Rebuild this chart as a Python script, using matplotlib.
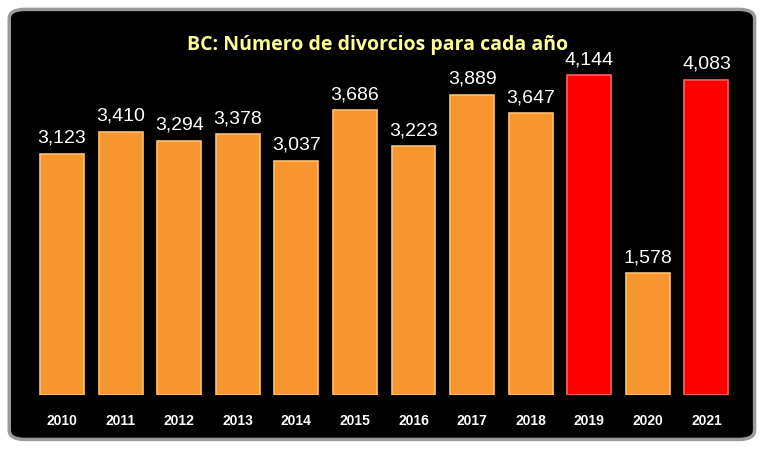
import matplotlib
matplotlib.use("Agg")
import matplotlib.pyplot as plt
from matplotlib.patches import FancyBboxPatch

years = ["2010","2011","2012","2013","2014","2015","2016","2017","2018","2019","2020","2021"]
values = [3123,3410,3294,3378,3037,3686,3223,3889,3647,4144,1578,4083]
highlight = ["2019","2021"]

fig = plt.figure(figsize=(7.7,4.7), dpi=100)
fig.patch.set_facecolor("white")
bg = fig.add_axes([0,0,1,1], zorder=0)
bg.set_axis_off()
bg.set_xlim(0,1); bg.set_ylim(0,1)
bg.add_patch(FancyBboxPatch((0.012,0.065),0.968,0.915, boxstyle="round,pad=0,rounding_size=0.02",
                       facecolor="black", edgecolor="#9a9a9a", linewidth=2.5))

ax = fig.add_axes([0.0425,0.16,0.913,0.755], zorder=1)
ax.set_facecolor("none")
x = list(range(len(years)))
colors = ["#FF0000" if y in highlight else "#F7962E" for y in years]
edges = ["#FF6060" if y in highlight else "#FFC070" for y in years]
ax.bar(x, values, width=0.75, color=colors, edgecolor=edges, linewidth=1.2)
for i,v in enumerate(values):
    ax.text(i, v+90, f"{v:,}", ha="center", va="bottom", color="white", fontsize=14, family="Liberation Sans")
ax.set_xlim(-0.5,11.5)
ax.set_ylim(0,4600)
ax.set_xticks(x)
ax.set_xticklabels(years, color="white", fontsize=10, fontweight="bold", family="Liberation Sans")
ax.tick_params(axis="x", length=0, pad=14)
ax.set_yticks([])
for s in ax.spines.values():
    s.set_visible(False)
fig.text(0.49, 0.905, "BC: Número de divorcios para cada año", ha="center", va="center",
         color="#FFFF99", fontsize=14, fontweight="bold", family="Open Sans", zorder=3)
fig.savefig("out.png", dpi=100, facecolor="white")
